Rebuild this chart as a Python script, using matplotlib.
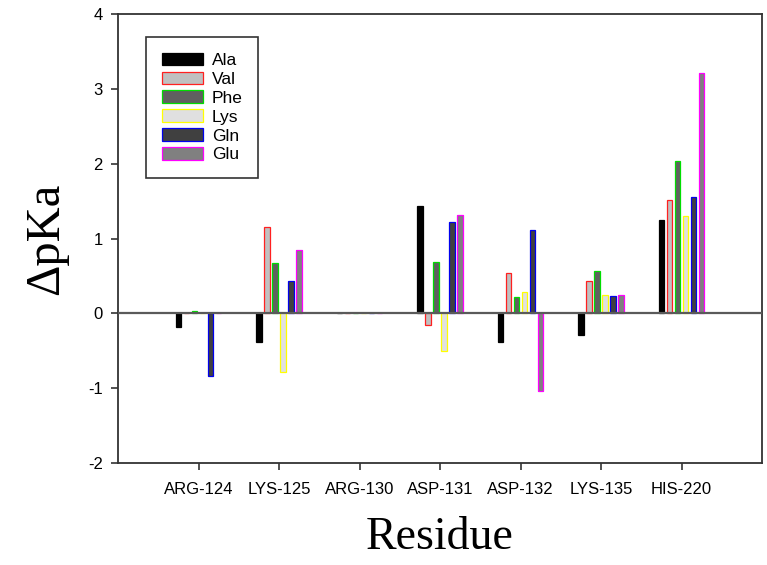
import matplotlib
matplotlib.use("Agg")
import matplotlib.pyplot as plt
import numpy as np

residues = ["ARG-124", "LYS-125", "ARG-130", "ASP-131", "ASP-132", "LYS-135", "HIS-220"]
series_names = ["Ala", "Val", "Phe", "Lys", "Gln", "Glu"]
ala = [-0.18, -0.38, 0.0, 1.43, -0.38, -0.29, 1.25]
val = [0.0, 1.15, 0.0, -0.15, 0.54, 0.43, 1.52]
phe = [0.03, 0.67, 0.0, 0.69, 0.22, 0.56, 2.04]
lys = [0.0, -0.78, 0.0, -0.51, 0.28, 0.25, 1.30]
gln = [-0.84, 0.43, 0.0, 1.22, 1.11, 0.23, 1.55]
glu = [0.0, 0.84, 0.0, 1.32, -1.04, 0.24, 3.21]
series_values = [ala, val, phe, lys, gln, glu]

fill_colors = ["#000000", "#c0c0c0", "#606060", "#e0e0e0", "#404040", "#808080"]
edge_colors = ["#000000", "#ff2020", "#00dd00", "#ffff00", "#0000ee", "#ff00ff"]

W, H = 767, 565
fig = plt.figure(figsize=(W / 100, H / 100), dpi=100)
ax = fig.add_axes([118 / W, 1 - 463 / H, (762 - 118) / W, (463 - 14) / H])

x = np.arange(1, len(residues) + 1)
step = 0.1
bw = 0.068
for i, (name, vals) in enumerate(zip(series_names, series_values)):
    ax.bar(x + (i - 2.5) * step, vals, width=bw, color=fill_colors[i],
           edgecolor=edge_colors[i], linewidth=0.9, label=name, zorder=2)

ax.axhline(0, color="#5a5a5a", linewidth=1.6, zorder=3)

ax.set_xlim(0, 8)
ax.set_ylim(-2, 4)
ax.set_xticks(x)
ax.set_xticklabels(residues, fontfamily="Liberation Sans", fontsize=12)
ax.set_yticks([-2, -1, 0, 1, 2, 3, 4])
ax.set_yticklabels(["-2", "-1", "0", "1", "2", "3", "4"], fontfamily="Liberation Sans", fontsize=12)
ax.tick_params(direction="out", length=5, width=1.2, color="#333333")
ax.tick_params(axis="x", pad=9)
ax.tick_params(axis="y", pad=6)

for s in ax.spines.values():
    s.set_color("#333333")
    s.set_linewidth(1.3)

ax.set_xlabel("Residue", fontfamily="Liberation Serif", fontsize=33, labelpad=14)
ax.set_ylabel("ΔpKa", fontfamily="Liberation Serif", fontsize=35, labelpad=14)

leg = ax.legend(loc="upper left", bbox_to_anchor=(146 / W, 1 - 37 / H),
                bbox_transform=fig.transFigure, borderaxespad=0,
                prop={"family": "Liberation Sans", "size": 12.5},
                handlelength=2.4, handleheight=0.75, labelspacing=0.2,
                handletextpad=0.5, borderpad=0.9, fancybox=False,
                framealpha=1, edgecolor="#333333")
leg.get_frame().set_linewidth(1.2)

fig.savefig("out.png", dpi=100)
